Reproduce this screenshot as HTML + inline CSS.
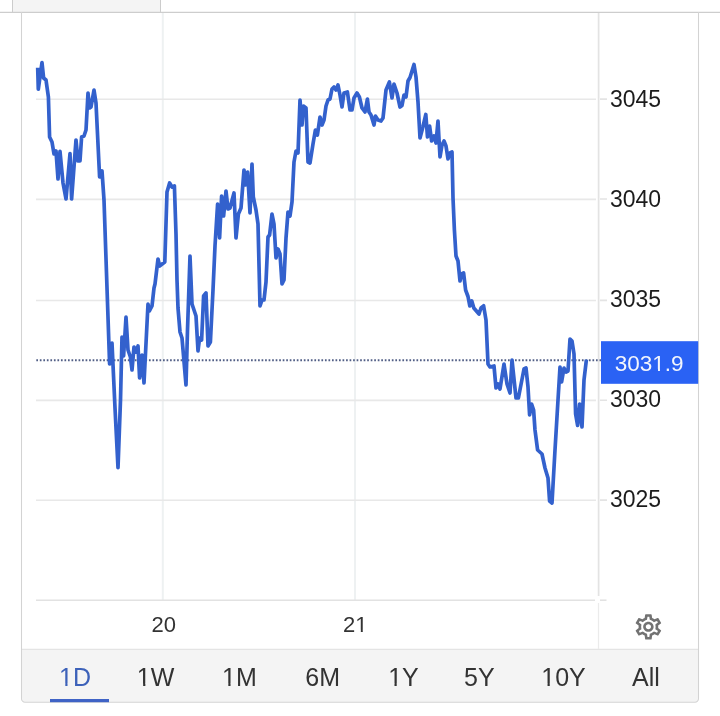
<!DOCTYPE html>
<html lang="en">
<head>
<meta charset="utf-8">
<title>Chart</title>
<style>
html,body{margin:0;padding:0;background:#fff;}
body{width:720px;height:716px;overflow:hidden;font-family:"Liberation Sans", Arial, sans-serif;}
svg{display:block;}
text{font-family:"Liberation Sans", Arial, sans-serif;}
.ax{font-size:23px;fill:#1c1c1c;}
.tm{font-size:22px;fill:#333;}
.rg{font-size:25px;fill:#333;}
</style>
</head>
<body>
<svg width="720" height="716" viewBox="0 0 720 716">
<rect x="0" y="0" width="720" height="716" fill="#ffffff"/>
<!-- top tab remnant -->
<rect x="12" y="0" width="148.5" height="12" fill="#f4f4f4"/>
<line x1="12.5" y1="0" x2="12.5" y2="12" stroke="#cccccc" stroke-width="1"/>
<line x1="160.5" y1="0" x2="160.5" y2="12" stroke="#cccccc" stroke-width="1"/>
<line x1="0" y1="12.3" x2="720" y2="12.3" stroke="#cdcdcd" stroke-width="1.15"/>
<!-- bottom range bar -->
<path d="M22 649.3 H698.5 V698.7 a3.5 3.5 0 0 1 -3.5 3.5 H25.5 a3.5 3.5 0 0 1 -3.5 -3.5 Z" fill="#f4f4f4"/>
<line x1="22" y1="649.3" x2="698" y2="649.3" stroke="#e4e4e4" stroke-width="1.2"/>
<!-- card border -->
<path d="M21.5 12 V698.7 a3.5 3.5 0 0 0 3.5 3.5 H695 a3.5 3.5 0 0 0 3.5 -3.5 V12" fill="none" stroke="#d3d3d3" stroke-width="1.05"/>
<!-- grid -->
<g stroke="#eef1f2" stroke-width="2">
<line x1="162.8" y1="13" x2="162.8" y2="600"/>
<line x1="355" y1="13" x2="355" y2="600"/>
</g>
<g stroke="#e8e8e8" stroke-width="1.6">
<path d="M36 99.3H596M36 199.4H596M36 300.5H596M36 400.4H596M36 500.3H596"/>
<path d="M600 99.1H607M600 199H607M600 300.4H607M600 400.3H607M600 500.1H607" stroke="#e4e4e4"/>
</g>
<!-- axes -->
<line x1="598.6" y1="13" x2="598.6" y2="596" stroke="#e3e3e3" stroke-width="1.7"/>
<line x1="598.5" y1="603" x2="598.5" y2="649" stroke="#ebebeb" stroke-width="1.2"/>
<line x1="36" y1="600.2" x2="595" y2="600.2" stroke="#e2e2e2" stroke-width="1.6"/>
<line x1="600" y1="600.2" x2="606.5" y2="600.2" stroke="#e2e2e2" stroke-width="1.6"/>
<!-- price line -->
<line x1="36.3" y1="360.2" x2="601" y2="360.2" stroke="#525f86" stroke-width="1.85" stroke-dasharray="1.7 1.82"/>
<!-- series -->
<polyline fill="none" stroke="#3361cd" stroke-width="3.7" stroke-linejoin="round" stroke-linecap="butt" points="37.7,67.6 38.3,89.2 42,62.6 43.6,78 46,80 48.4,97 49.6,137 52,142 54,154 56,151 58,179 60,151.4 63,183 66,199 70,153.6 71.6,199 76,140 78,161 80,161 81.6,137 84,136 86,130 88,93 89.6,108 91,107 94,90 96,103 99.6,177 102,171 104,200 109.6,364 112,343 115,408 118,467.6 120.5,400 122,337 123.6,356 126,317 128,350 130.4,357 132,370 134,347 136,352 138,346 139.6,378 142,355 144,383 148,304 149.4,311 152,306 154,288 155,284 158,259 159.6,266 164.8,262 167,192 169.6,183 172,187 174.4,186 176,234 177,280 178,308 180,332 182,338 186,385 187.5,330 190,256 192,304 196,316 198,351 199.6,338 201.6,340 203.6,296 206,293 208,346 210.4,342 213,290 215,246 217.6,204 219.6,238 221.6,196 223.6,216 226,191 228,209 230,208 234,193 236,238 238.4,214 241,208 244,170 245.6,185 247.6,172 250,213 252,164 253.3,197 256,210 258,224 260,306 262,300 264,300 266,282 268,237 269.6,235 272,214 274,224 276,258 278,249 280,254 282,284 284,280 286,238 288,212 290,216 292,202 294,162 296,151 298,153 300,100 302,125 303.4,106 306,108 308,162 310,163 313,144 315.4,130 317.4,135 320,117 322,125 324,120 326,106 328,100 330,99 332,89 334,87 336,90 338,85 340,95 342,107 344,93 347.4,92 350,110 352,110 354,98 357,93 359.4,97 362,108 365,112 367.4,99 369,112 371,115 374,125 375.4,116 378,120 381,121 383,118 386,90 389.4,82 392,98 394,84 397,93 400,107 402,105.5 404,95 406,97 408,81 410,77.5 414,64.5 416,77 418,102 420,138 423,126.5 425.8,114.5 427.5,137 429.6,126 431.6,141 434,136 436,143 438,121 440,157 442,145 444,141 446,146 448,159 450,153 452,152 453,198 454.4,230 456,256 458,261 460,281 461.6,274 463.6,273 465.6,290 468,296.5 469.8,306 471.8,301 473.8,308 479,314 481,308 483.6,305.8 486,320 488,364 490,367 494,366 496,388 498,384 500,389 504,364 507,384 510,393 512,360 516,398 518.4,398 524,369 526,368 528,387 529.6,415 531.6,404 533.6,410 535,430 537.6,450 542,454 545,468 548,478 549.6,501 552,503 555,450 558,400 560,367 561.6,382 564,368 566,372 568,371 570,339 572,341 574,354 575.6,414 577.6,425.5 579.6,404 582,427 584,380 586.4,359.6"/>
<!-- axis labels -->
<text class="ax" x="610" y="107.3">3045</text>
<text class="ax" x="610" y="207.3">3040</text>
<text class="ax" x="610" y="307.2">3035</text>
<text class="ax" x="610" y="407.2">3030</text>
<text class="ax" x="610" y="506.5">3025</text>
<rect x="601" y="341.2" width="97.2" height="42.6" fill="#2a62f4"/>
<text x="614.8" y="371.1" font-size="22.5" fill="#f2f5fc">3031.9</text>
<!-- time labels -->
<text class="tm" x="163.8" y="632" text-anchor="middle">20</text>
<text class="tm" x="355.3" y="632" text-anchor="middle">21</text>
<!-- gear -->
<g transform="translate(648.4 626.8) scale(1.31 1.265) translate(-12 -12)" fill="#727272">
<path d="M19.43 12.98c.04-.32.07-.64.07-.98 0-.34-.03-.66-.07-.98l2.11-1.65c.19-.15.24-.42.12-.64l-2-3.46c-.09-.16-.26-.25-.44-.25-.06 0-.12.01-.17.03l-2.49 1c-.52-.4-1.08-.73-1.69-.98l-.38-2.65C14.46 2.18 14.25 2 14 2h-4c-.25 0-.46.18-.49.42l-.38 2.65c-.61.25-1.17.59-1.69.98l-2.49-1c-.06-.02-.12-.03-.18-.03-.17 0-.34.09-.43.25l-2 3.46c-.13.22-.07.49.12.64l2.11 1.65c-.04.32-.07.65-.07.98 0 .33.03.66.07.98l-2.11 1.65c-.19.15-.24.42-.12.64l2 3.46c.09.16.26.25.44.25.06 0 .12-.01.17-.03l2.49-1c.52.4 1.08.73 1.69.98l.38 2.65c.03.24.24.42.49.42h4c.25 0 .46-.18.49-.42l.38-2.65c.61-.25 1.17-.59 1.69-.98l2.49 1c.06.02.12.03.18.03.17 0 .34-.09.43-.25l2-3.46c.12-.22.07-.49-.12-.64l-2.11-1.65zm-1.98-1.710c.04.31.05.52.05.73 0 .21-.02.43-.05.73l-.14 1.13.89.7 1.08.84-.7 1.21-1.27-.51-1.04-.42-.9.68c-.43.32-.84.56-1.25.73l-1.06.43-.16 1.13-.2 1.35h-1.4l-.19-1.35-.16-1.13-1.06-.43c-.43-.18-.83-.41-1.23-.71l-.91-.7-1.06.43-1.27.51-.7-1.21 1.08-.84.89-.7-.14-1.13c-.03-.31-.05-.54-.05-.74s.02-.43.05-.73l.14-1.13-.89-.7-1.08-.84.7-1.21 1.27.51 1.04.42.9-.68c.43-.32.84-.56 1.25-.73l1.06-.43.16-1.13.2-1.35h1.39l.19 1.35.16 1.13 1.06.43c.43.18.83.41 1.23.71l.91.7 1.06-.43 1.27-.51.7 1.21-1.07.85-.89.7.14 1.13zM12 8c-2.21 0-4 1.79-4 4s1.79 4 4 4 4-1.790 4-4-1.79-4-4-4zm0 6c-1.1 0-2-.9-2-2s.9-2 2-2 2 .9 2 2-.9 2-2 2z"/>
</g>
<!-- range buttons -->
<text class="rg" x="75" y="686" text-anchor="middle" style="fill:#3c61b9">1D</text>
<rect x="50" y="699" width="59" height="3.2" fill="#3f63c6"/>
<text class="rg" x="155.6" y="686" text-anchor="middle">1W</text>
<text class="rg" x="239.4" y="686" text-anchor="middle">1M</text>
<text class="rg" x="322.7" y="686" text-anchor="middle">6M</text>
<text class="rg" x="403.5" y="686" text-anchor="middle">1Y</text>
<text class="rg" x="479.4" y="686" text-anchor="middle">5Y</text>
<text class="rg" x="563.5" y="686" text-anchor="middle">10Y</text>
<text class="rg" x="646" y="686" text-anchor="middle">All</text>
<!-- trim digit feet to match source typeface -->
<g>
<rect x="652.75" y="368.92" width="5.24" height="2.88" fill="#2a62f4"/><rect x="659.98" y="368.92" width="5.07" height="2.88" fill="#2a62f4"/>
<rect x="355.67" y="629.86" width="5.16" height="2.84" fill="#ffffff"/><rect x="362.77" y="629.86" width="4.98" height="2.84" fill="#ffffff"/>
<rect x="59.62" y="683.63" width="5.68" height="3.07" fill="#f4f4f4"/><rect x="67.51" y="683.63" width="5.49" height="3.07" fill="#f4f4f4"/>
<rect x="137.46" y="683.63" width="5.68" height="3.07" fill="#f4f4f4"/><rect x="145.35" y="683.63" width="5.49" height="3.07" fill="#f4f4f4"/>
<rect x="222.64" y="683.63" width="5.68" height="3.07" fill="#f4f4f4"/><rect x="230.53" y="683.63" width="5.49" height="3.07" fill="#f4f4f4"/>
<rect x="388.81" y="683.63" width="5.68" height="3.07" fill="#f4f4f4"/><rect x="396.70" y="683.63" width="5.49" height="3.07" fill="#f4f4f4"/>
<rect x="541.86" y="683.63" width="5.68" height="3.07" fill="#f4f4f4"/><rect x="549.75" y="683.63" width="5.49" height="3.07" fill="#f4f4f4"/>
</g>
</svg>
</body>
</html>
